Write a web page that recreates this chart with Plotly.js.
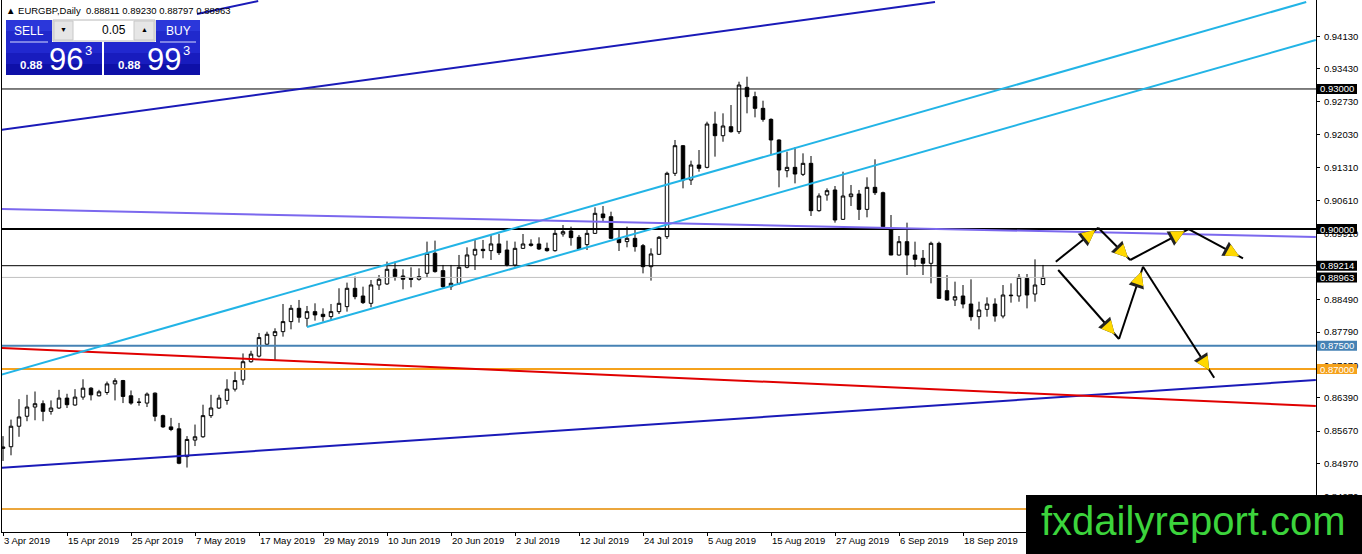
<!DOCTYPE html>
<html>
<head>
<meta charset="utf-8">
<script src="https://cdn.plot.ly/plotly-3.0.1.min.js"></script>
<style>
  body { margin: 0; background: #fff; }
  #chart { width: 1362px; height: 554px; }
</style>
</head>
<body>
<div id="chart"></div>
<script>
// EURGBP daily candles, bar index 0 = 3 Apr 2019
const opens = [
  0.85300, 0.85336, 0.85775, 0.85988, 0.86186, 0.86257, 0.86094, 0.86165, 0.86378, 0.86229,
  0.86399, 0.86590, 0.86427, 0.86498, 0.86682, 0.86753, 0.86427, 0.86285, 0.86271, 0.86484,
  0.86002, 0.85761, 0.85719, 0.85124, 0.85478, 0.85549, 0.86002, 0.86165, 0.86328, 0.86569,
  0.86767, 0.87157, 0.87277, 0.87532, 0.87716, 0.87801, 0.88016, 0.88301, 0.88087, 0.88230,
  0.88173, 0.88123, 0.88230, 0.88337, 0.88730, 0.88565, 0.88408, 0.88801, 0.88823, 0.89137,
  0.88994, 0.88944, 0.88923, 0.89051, 0.89480, 0.89108, 0.88765, 0.88837, 0.89180, 0.89444,
  0.89565, 0.89537, 0.89680, 0.89550, 0.89229, 0.89586, 0.89679, 0.89679, 0.89586, 0.89536,
  0.89893, 0.89957, 0.89822, 0.89665, 0.89907, 0.90322, 0.90264, 0.89800, 0.89730, 0.89800,
  0.89643, 0.89193, 0.89458, 0.89836, 0.91193, 0.91785, 0.91050, 0.91371, 0.91321, 0.92249,
  0.91999, 0.92192, 0.92085, 0.93035, 0.92835, 0.92585, 0.92349, 0.91907, 0.91250, 0.91321,
  0.91171, 0.91407, 0.90393, 0.90729, 0.90836, 0.90207, 0.90693, 0.90750, 0.90421, 0.90893,
  0.90778, 0.89993, 0.89443, 0.89729, 0.89443, 0.89372, 0.89265, 0.89693, 0.88679, 0.88479,
  0.88565, 0.88393, 0.88122, 0.88279, 0.88393, 0.88136, 0.88570, 0.88565, 0.88943, 0.88607,
  0.88811
];
const highs = [
  0.85563, 0.85917, 0.86356, 0.86448, 0.86519, 0.86328, 0.86328, 0.86555, 0.86470, 0.86569,
  0.86781, 0.86611, 0.86555, 0.86732, 0.86803, 0.86767, 0.86541, 0.86378, 0.86498, 0.86498,
  0.86023, 0.85953, 0.85846, 0.85563, 0.85811, 0.86236, 0.86448, 0.86448, 0.86781, 0.86944,
  0.87334, 0.87391, 0.87773, 0.87800, 0.87873, 0.88394, 0.88373, 0.88480, 0.88351, 0.88408,
  0.88301, 0.88394, 0.88730, 0.88851, 0.88980, 0.88765, 0.88908, 0.89015, 0.89301, 0.89301,
  0.89137, 0.89180, 0.89158, 0.89730, 0.89751, 0.89230, 0.89230, 0.89444, 0.89608, 0.89765,
  0.89765, 0.89894, 0.89894, 0.89750, 0.89730, 0.89893, 0.89779, 0.89822, 0.89708, 0.89993,
  0.90086, 0.90050, 0.89872, 0.89993, 0.90464, 0.90493, 0.90371, 0.89979, 0.90050, 0.90015,
  0.89679, 0.89586, 0.89850, 0.91228, 0.91907, 0.91800, 0.91464, 0.91692, 0.92299, 0.92514,
  0.92478, 0.92656, 0.93156, 0.93263, 0.92942, 0.92749, 0.92371, 0.91921, 0.91657, 0.91750,
  0.91621, 0.91564, 0.90764, 0.90871, 0.90921, 0.91228, 0.90943, 0.90836, 0.91107, 0.91493,
  0.90800, 0.90300, 0.89850, 0.90136, 0.89729, 0.89550, 0.89729, 0.89729, 0.89014, 0.88872,
  0.88800, 0.88922, 0.88443, 0.88536, 0.88515, 0.88800, 0.88836, 0.89036, 0.89036, 0.89350,
  0.89230
];
const lows = [
  0.85031, 0.85152, 0.85549, 0.85882, 0.85903, 0.85882, 0.86023, 0.86144, 0.86165, 0.86215,
  0.86342, 0.86328, 0.86413, 0.86448, 0.86328, 0.86271, 0.86236, 0.86215, 0.86186, 0.85882,
  0.85740, 0.85669, 0.84961, 0.84890, 0.85350, 0.85527, 0.85953, 0.86144, 0.86236, 0.86519,
  0.86661, 0.87136, 0.87249, 0.87511, 0.87192, 0.87694, 0.87851, 0.87994, 0.87909, 0.88037,
  0.88016, 0.88037, 0.88180, 0.88230, 0.88494, 0.88394, 0.88323, 0.88694, 0.88801, 0.88894,
  0.88708, 0.88751, 0.88894, 0.88965, 0.89065, 0.88730, 0.88694, 0.88801, 0.89158, 0.89123,
  0.89372, 0.89337, 0.89444, 0.89200, 0.89193, 0.89572, 0.89622, 0.89550, 0.89515, 0.89515,
  0.89836, 0.89643, 0.89550, 0.89550, 0.89893, 0.90157, 0.89786, 0.89529, 0.89608, 0.89515,
  0.89050, 0.88894, 0.89443, 0.89786, 0.91135, 0.90871, 0.90943, 0.91228, 0.91300, 0.91550,
  0.91870, 0.92064, 0.92035, 0.92478, 0.92392, 0.92299, 0.91585, 0.90893, 0.91107, 0.90978,
  0.91135, 0.90279, 0.90371, 0.90607, 0.90136, 0.90193, 0.90493, 0.90193, 0.90250, 0.90729,
  0.90036, 0.89440, 0.89430, 0.89014, 0.89193, 0.89014, 0.88836, 0.88500, 0.88465, 0.88350,
  0.88300, 0.88036, 0.87851, 0.88122, 0.88015, 0.88086, 0.88422, 0.88443, 0.88300, 0.88443,
  0.88797
];
const closes = [
  0.85330, 0.85775, 0.85974, 0.86186, 0.86257, 0.86094, 0.86165, 0.86378, 0.86236, 0.86399,
  0.86590, 0.86448, 0.86512, 0.86682, 0.86750, 0.86413, 0.86271, 0.86290, 0.86463, 0.85988,
  0.85761, 0.85705, 0.84982, 0.85492, 0.85549, 0.86002, 0.86165, 0.86378, 0.86569, 0.86753,
  0.87157, 0.87320, 0.87674, 0.87745, 0.87801, 0.88016, 0.88301, 0.88109, 0.88230, 0.88159,
  0.88123, 0.88230, 0.88408, 0.88730, 0.88551, 0.88423, 0.88801, 0.88923, 0.89137, 0.88980,
  0.88923, 0.88923, 0.88980, 0.89480, 0.89087, 0.88765, 0.88837, 0.89180, 0.89444, 0.89565,
  0.89537, 0.89680, 0.89494, 0.89230, 0.89586, 0.89679, 0.89650, 0.89572, 0.89536, 0.89907,
  0.89943, 0.89815, 0.89572, 0.89907, 0.90336, 0.90243, 0.89800, 0.89708, 0.89800, 0.89622,
  0.89193, 0.89465, 0.89822, 0.91193, 0.91785, 0.91050, 0.91371, 0.91300, 0.92249, 0.91999,
  0.92207, 0.92085, 0.93085, 0.92835, 0.92585, 0.92349, 0.91907, 0.91264, 0.91321, 0.91178,
  0.91407, 0.90393, 0.90707, 0.90821, 0.90193, 0.90707, 0.90750, 0.90421, 0.90893, 0.90778,
  0.90050, 0.89443, 0.89729, 0.89443, 0.89350, 0.89265, 0.89693, 0.88515, 0.88479, 0.88550,
  0.88393, 0.88122, 0.88265, 0.88393, 0.88136, 0.88586, 0.88580, 0.88965, 0.88586, 0.88800,
  0.88963
];

const dateTickIdx = [0, 8, 16, 24, 32, 40, 48, 56, 64, 72, 80, 88, 96, 104, 112, 120];
const dateTickText = ["3 Apr 2019", "15 Apr 2019", "25 Apr 2019", "7 May 2019", "17 May 2019",
  "29 May 2019", "10 Jun 2019", "20 Jun 2019", "2 Jul 2019", "12 Jul 2019", "24 Jul 2019",
  "5 Aug 2019", "15 Aug 2019", "27 Aug 2019", "6 Sep 2019", "18 Sep 2019"];
const priceTicks = [0.94130, 0.93430, 0.92730, 0.92030, 0.91310, 0.90610, 0.89910,
  0.88490, 0.87790, 0.87070, 0.86390, 0.85670, 0.84970, 0.84270];

// horizontal levels and their right-side price tags
const levelPrices = [0.93, 0.90, 0.89214, 0.88963, 0.875, 0.87, 0.84];
const tagPrices = [0.93, 0.90, 0.89214, 0.88963, 0.875, 0.87];

// trendlines: [[barIndex, price], [barIndex, price]]
const trendlines = {
  blueTop: [[-0.375, 0.92121], [116.5, 0.94863]],
  blueTopShort: [[24.25, 0.94606], [31.9, 0.94884]],
  blueBottom: [[-0.375, 0.84880], [164.1, 0.86765]],
  red: [[-0.375, 0.87451], [164.1, 0.86208]],
  cyanUpper: [[-0.375, 0.86872], [162.9, 0.94863]],
  cyanLower: [[38, 0.87900], [164.1, 0.94049]],
  purple: [[-0.375, 0.90428], [164.1, 0.89829]]
};

// projected paths (bar index, price)
const pathUpper = [[131.6, 0.89300], [136.9, 0.90028], [140.9, 0.89336], [148.2, 0.90000], [155.0, 0.89372]];
const pathLower = [[131.9, 0.89122], [139.5, 0.87644], [142.5, 0.89192], [151.4, 0.86814]];

// ---- layout geometry ----
const W = 1362, H = 554;
const M = { l: 2, r: 46, t: 0, b: 22 };
const plotW = W - M.l - M.r, plotH = H - M.t - M.b;
const xRange = [-0.125, 164.125];
const yRange = [0.83509, 0.94906];
const px = (x) => (x - M.l) / plotW;          // pixel -> paper x
const py = (y) => 1 - (y - M.t) / plotH;      // pixel -> paper y
const pricePerPx = (yRange[1] - yRange[0]) / plotH;

const FONT = "Liberation Sans, Arial, sans-serif";

const trendStyle = {
  blueTop: { color: "#1a1ab8", width: 2 },
  blueTopShort: { color: "#1a1ab8", width: 2 },
  blueBottom: { color: "#1a1ab8", width: 2 },
  red: { color: "#e00000", width: 2 },
  cyanUpper: { color: "#22b4e6", width: 2 },
  cyanLower: { color: "#22b4e6", width: 2 },
  purple: { color: "#7b68ee", width: 2 }
};
const levelStyle = [
  { color: "#000", width: 1 }, { color: "#000", width: 2 }, { color: "#000", width: 1 },
  { color: "#c0c0c0", width: 1 }, { color: "#4682b4", width: 2 }, { color: "#f5a21c", width: 2 },
  { color: "#eba63c", width: 2 }
];
const tagBg = ["#000", "#000", "#000", "#000", "#4682b4", "#f5a21c"];

const shapes = [];
const annotations = [];

levelPrices.forEach((p, k) => {
  shapes.push({ type: "line", xref: "paper", yref: "y", x0: 0, x1: 1, y0: p, y1: p,
    line: levelStyle[k] });
});

Object.keys(trendlines).forEach((name) => {
  const [a, b] = trendlines[name];
  shapes.push({ type: "line", xref: "x", yref: "y", x0: a[0], y0: a[1], x1: b[0], y1: b[1],
    line: trendStyle[name] });
});

// price tags on the axis
tagPrices.forEach((p, k) => {
  shapes.push({ type: "rect", xref: "paper", yref: "y", x0: px(1317), x1: px(1357),
    y0: p - 5 * pricePerPx, y1: p + 5 * pricePerPx, fillcolor: tagBg[k], line: { width: 0 } });
  annotations.push({ xref: "paper", yref: "y", x: px(1337), y: p, text: p.toFixed(5),
    showarrow: false, xanchor: "center", yanchor: "middle",
    font: { family: FONT, size: 9.5, color: "#fff" } });
});

// arrows: black shafts, yellow heads
const kx = plotW / (xRange[1] - xRange[0]);
const ky = plotH / (yRange[1] - yRange[0]);
[pathUpper, pathLower].forEach((path) => {
  for (let k = 0; k < path.length - 1; k++) {
    const s = path[k], e = path[k + 1];
    shapes.push({ type: "line", xref: "x", yref: "y", x0: s[0], y0: s[1], x1: e[0], y1: e[1],
      line: { color: "#000", width: 2 } });
    const tx = s[0] + 0.93 * (e[0] - s[0]);
    const ty = s[1] + 0.93 * (e[1] - s[1]);
    const dx = (e[0] - s[0]) * kx, dy = -(e[1] - s[1]) * ky;
    const len = Math.hypot(dx, dy);
    const ux = dx / len, uy = dy / len;
    [["#222", 3.2], ["#ffd800", 2.6]].forEach(([c, sz]) => {
      annotations.push({ x: tx, y: ty, xref: "x", yref: "y", ax: -ux * 12, ay: -uy * 12,
        text: "", showarrow: true, arrowhead: 2, arrowsize: sz, arrowwidth: 1,
        arrowcolor: c, standoff: 0 });
    });
  }
});

// header text
annotations.push({ xref: "paper", yref: "paper", x: px(4), y: py(10), xanchor: "left", yanchor: "middle",
  text: "▲ EURGBP,Daily  0.88811 0.89230 0.88797 0.88963", showarrow: false,
  font: { family: FONT, size: 9.5, color: "#000" } });

// one-click trading panel
const rectPx = (x0, y0, x1, y1, fill, line) => shapes.push({ type: "rect", xref: "paper", yref: "paper",
  x0: px(x0), x1: px(x1), y0: py(y1), y1: py(y0), fillcolor: fill, line: line || { width: 0 } });
const textPx = (x, y, text, size, color, anchor, bold) => annotations.push({ xref: "paper", yref: "paper",
  x: px(x), y: py(y), text: bold ? "<b>" + text + "</b>" : text, showarrow: false,
  xanchor: anchor || "center", yanchor: "middle", font: { family: FONT, size: size, color: color } });

rectPx(6, 20, 52, 31, "#2b37da"); rectPx(6, 31, 52, 42, "#2029cc");
rectPx(156, 20, 200, 31, "#2b37da"); rectPx(156, 31, 200, 42, "#2029cc");
rectPx(53, 20, 155, 41, "#fff", { color: "#b8b8b8", width: 1 });
rectPx(54, 21, 73, 40, "#e6e6e6", { color: "#c8c8c8", width: 1 });
rectPx(134, 21, 154, 40, "#e6e6e6", { color: "#c8c8c8", width: 1 });
[[6, 102], [104, 200]].forEach(([a, b]) => {
  rectPx(a, 42, b, 53, "#2128cf"); rectPx(a, 53, b, 64, "#181cbe"); rectPx(a, 64, b, 75, "#0e10a8");
});
shapes.push({ type: "line", xref: "paper", yref: "paper", x0: px(10), x1: px(48), y0: py(42), y1: py(42),
  line: { color: "#d8dcff", width: 1 } });
shapes.push({ type: "line", xref: "paper", yref: "paper", x0: px(160), x1: px(196), y0: py(42), y1: py(42),
  line: { color: "#d8dcff", width: 1 } });

textPx(29, 31, "SELL", 12, "#fff");
textPx(178, 31, "BUY", 12, "#fff");
textPx(128, 30, "0.05", 12, "#000", "right");
textPx(63, 30, "▼", 7, "#000");
textPx(144, 30, "▲", 7, "#000");
textPx(18, 65, "0.88", 11.5, "#fff", "left", true);
textPx(47, 60, "96", 31, "#fff", "left");
textPx(88, 50, "3", 13, "#fff");
textPx(116, 65, "0.88", 11.5, "#fff", "left", true);
textPx(145, 60, "99", 31, "#fff", "left");
textPx(186, 50, "3", 13, "#fff");

// watermark
rectPx(1026, 495, 1362, 554, "#000");
textPx(1193, 521, "fxdailyreport.com", 40, "#3cd43c");

const candles = {
  type: "candlestick",
  x: opens.map((_, i) => i),
  open: opens, high: highs, low: lows, close: closes,
  increasing: { line: { color: "#000", width: 1 }, fillcolor: "#fff" },
  decreasing: { line: { color: "#000", width: 1 }, fillcolor: "#000" },
  whiskerwidth: 0,
  hoverinfo: "skip"
};

const layout = {
  width: W, height: H,
  margin: M,
  paper_bgcolor: "#fff", plot_bgcolor: "#fff",
  showlegend: false,
  boxgap: 0.38,
  font: { family: FONT, size: 9.5, color: "#000" },
  xaxis: {
    range: xRange, rangeslider: { visible: false }, showgrid: false, zeroline: false,
    showline: true, linecolor: "#000", linewidth: 1,
    tickmode: "array", tickvals: dateTickIdx, ticktext: dateTickText,
    ticks: "outside", ticklen: 3, tickcolor: "#000", ticklabelposition: "outside right",
    tickfont: { family: FONT, size: 9.5, color: "#000" }
  },
  yaxis: {
    range: yRange, side: "right", showgrid: false, zeroline: false,
    showline: true, linecolor: "#000", linewidth: 1, mirror: true,
    tickmode: "array", tickvals: priceTicks, ticktext: priceTicks.map((v) => v.toFixed(5)),
    ticks: "outside", ticklen: 3, tickcolor: "#000", ticklabelstandoff: 2,
    tickfont: { family: FONT, size: 9.5, color: "#000" }
  },
  shapes: shapes,
  annotations: annotations
};

Plotly.newPlot("chart", [candles], layout, { staticPlot: true, displayModeBar: false });
</script>
</body>
</html>
